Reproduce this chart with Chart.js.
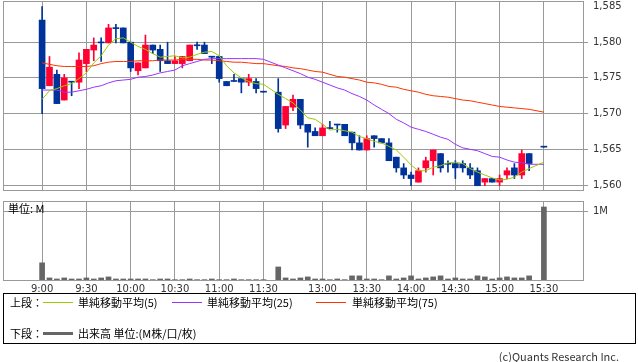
<!DOCTYPE html>
<html><head><meta charset="utf-8">
<script src="https://cdn.jsdelivr.net/npm/chart.js@4/dist/chart.umd.min.js"></script>
<style>
body{margin:0;width:638px;height:362px;background:#fff;position:relative;overflow:hidden;}
canvas{position:absolute;left:0;}
.t{position:absolute;font-family:"Noto Sans CJK JP",sans-serif;font-size:11px;line-height:12px;color:#000;white-space:nowrap;}
.ln{position:absolute;height:1px;width:30px;}
</style></head><body>
<canvas id="price" width="638" height="195" style="top:0;width:638px;height:195px"></canvas>
<canvas id="vol" width="638" height="100" style="top:195px;width:638px;height:100px"></canvas>
<div class="t" style="left:8px;top:202px">単位: M</div>
<div style="position:absolute;left:3px;top:293px;width:631px;height:49px;border:1px solid #000"></div>
<div class="t" style="left:10px;top:296px">上段：</div>
<div class="ln" style="left:43px;top:302px;background:#99cc00"></div>
<div class="t" style="left:78px;top:296px">単純移動平均(5)</div>
<div class="ln" style="left:172px;top:302px;background:#9933ff"></div>
<div class="t" style="left:207px;top:296px">単純移動平均(25)</div>
<div class="ln" style="left:316px;top:302px;background:#ff3300"></div>
<div class="t" style="left:352px;top:296px">単純移動平均(75)</div>
<div class="t" style="left:10px;top:327px">下段：</div>
<div class="ln" style="left:43px;top:332px;height:3px;background:#666"></div>
<div class="t" style="left:78px;top:327px">出来高 単位:(M株/口/枚)</div>
<div class="t" style="right:19px;top:350px;color:#333">(c)Quants Research Inc.</div>
<script>
const times = ['9:00','9:05','9:10','9:15','9:20','9:25','9:30','9:35','9:40','9:45','9:50','9:55','10:00','10:05','10:10','10:15','10:20','10:25','10:30','10:35','10:40','10:45','10:50','10:55','11:00','11:05','11:10','11:15','11:20','11:25','11:30','','12:30','12:35','12:40','12:45','12:50','12:55','13:00','13:05','13:10','13:15','13:20','13:25','13:30','13:35','13:40','13:45','13:50','13:55','14:00','14:05','14:10','14:15','14:20','14:25','14:30','14:35','14:40','14:45','14:50','14:55','15:00','15:05','15:10','15:15','15:20','15:25','15:30'];
const xTickLabels = ['9:00','9:30','10:00','10:30','11:00','11:30','13:00','13:30','14:00','14:30','15:00','15:30'];
const priceTicks = [1560,1565,1570,1575,1580,1585];
const volTicks = [1];

const openP  = [1583.1,1573.9,1575.5,1571.9,1574.5,1574.4,1577.0,1578.9,1580.0,1579.9,1582.0,1582.0,1580.0,1576.0,1576.4,1579.6,1579.0,1577.4,1577.0,1577.0,1577.4,1579.6,1579.6,1578.0,1578.0,1574.5,1574.5,1574.9,1574.4,1574.5,1573.0,null,1573.0,1568.4,1570.9,1572.0,1568.5,1567.5,1566.9,1568.0,1568.5,1568.5,1567.4,1565.9,1564.9,1566.9,1566.5,1565.9,1563.9,1562.4,1561.4,1560.4,1562.4,1563.4,1564.4,1563.0,1563.0,1563.0,1562.4,1562.0,1560.4,1560.9,1560.4,1561.4,1562.4,1561.4,1564.4,null,1565.3];
const highP  = [1585.0,1578.0,1576.1,1575.5,1574.5,1578.5,1579.0,1580.6,1580.6,1582.5,1582.5,1582.0,1580.0,1577.1,1581.0,1579.6,1579.6,1580.0,1578.0,1578.0,1579.6,1580.0,1580.0,1578.0,1578.0,1574.5,1575.5,1574.9,1575.5,1574.9,1573.0,null,1574.9,1571.0,1572.6,1572.0,1568.5,1568.0,1568.5,1568.9,1568.5,1568.5,1567.4,1566.9,1566.9,1566.9,1566.5,1566.5,1563.9,1563.0,1561.8,1562.4,1563.9,1564.9,1564.4,1563.4,1563.4,1563.4,1563.0,1562.4,1560.9,1560.9,1561.4,1562.4,1563.0,1564.9,1564.4,null,1565.3];
const lowP   = [1570.0,1573.9,1571.4,1571.9,1572.5,1573.5,1575.9,1577.4,1577.3,1579.9,1579.9,1579.9,1575.9,1575.4,1576.4,1578.4,1575.9,1577.0,1577.0,1576.4,1577.4,1579.0,1578.4,1577.0,1574.4,1573.9,1574.5,1572.9,1573.9,1572.9,1573.0,null,1567.4,1567.9,1570.4,1567.9,1565.3,1566.9,1566.9,1567.9,1567.4,1566.9,1564.9,1564.9,1564.9,1565.3,1565.9,1563.4,1561.8,1560.9,1559.9,1560.4,1561.8,1561.4,1561.8,1561.8,1560.9,1561.8,1560.9,1559.9,1559.9,1560.4,1559.9,1560.9,1560.9,1560.9,1562.0,null,1565.3];
const closeP = [1573.5,1576.5,1571.4,1575.0,1574.4,1577.5,1579.0,1579.6,1579.9,1582.0,1581.9,1579.9,1576.4,1577.1,1579.6,1578.9,1577.4,1577.0,1577.4,1578.0,1579.6,1579.5,1578.4,1577.9,1574.9,1573.9,1574.5,1574.4,1574.9,1573.5,1573.0,null,1567.9,1571.0,1572.0,1568.4,1567.4,1566.9,1568.0,1567.9,1568.4,1566.9,1565.9,1564.9,1566.5,1566.5,1565.9,1563.4,1562.4,1561.4,1560.9,1562.0,1563.4,1564.9,1562.4,1562.9,1562.4,1562.4,1561.4,1559.9,1560.9,1560.4,1560.9,1562.0,1561.4,1564.4,1563.0,null,1565.3];
const ma5  = [1572.0,1573.2,1573.5,1573.9,1574.2,1574.9,1575.7,1577.1,1578.1,1579.6,1580.5,1580.6,1580.0,1579.4,1579.0,1578.4,1577.9,1578.0,1578.1,1577.8,1577.9,1578.3,1578.6,1578.7,1578.1,1576.7,1575.7,1575.0,1574.5,1574.2,1574.1,null,1572.7,1572.1,1571.5,1570.5,1569.4,1569.2,1568.5,1567.7,1567.8,1567.6,1567.4,1566.8,1566.5,1566.1,1565.9,1565.4,1564.9,1563.9,1562.8,1562.0,1562.0,1562.5,1562.7,1563.1,1563.2,1563.0,1562.3,1561.8,1561.4,1561.0,1560.7,1560.8,1561.1,1561.8,1562.3,null,1563.2];
const ma25 = [1573.3,1573.3,1573.3,1573.0,1573.0,1573.2,1573.4,1573.7,1573.9,1574.3,1574.6,1574.7,1574.8,1575.1,1575.2,1575.4,1575.7,1575.9,1576.1,1576.7,1577.0,1577.3,1577.6,1577.7,1577.7,1577.7,1577.7,1577.7,1577.7,1577.7,1577.6,null,1576.8,1576.4,1576.0,1575.6,1575.1,1574.8,1574.4,1574.0,1573.6,1573.3,1572.8,1572.4,1571.9,1571.2,1570.6,1570.0,1569.2,1568.7,1568.1,1567.8,1567.5,1567.1,1566.7,1566.4,1565.7,1565.2,1565.0,1564.8,1564.4,1564.0,1563.9,1563.5,1563.2,1563.1,1562.9,null,1562.9];
const ma75 = [1577.1,1576.9,1576.7,1576.6,1576.6,1576.6,1576.6,1576.7,1577.0,1577.2,1577.3,1577.3,1577.3,1577.4,1577.4,1577.4,1577.5,1577.5,1577.5,1577.6,1577.6,1577.6,1577.5,1577.5,1577.4,1577.3,1577.2,1577.2,1577.1,1577.0,1577.0,null,1576.7,1576.6,1576.4,1576.3,1576.1,1575.9,1575.8,1575.5,1575.2,1575.1,1574.9,1574.7,1574.4,1574.3,1574.1,1573.8,1573.7,1573.4,1573.2,1573.0,1572.7,1572.5,1572.4,1572.3,1572.1,1571.9,1571.8,1571.6,1571.4,1571.2,1571.0,1570.9,1570.8,1570.7,1570.6,null,1570.2];
const volume = [0.25,0.03,0.015,0.03,0.015,0.015,0.03,0.015,0.03,0.045,0.015,0.015,0.015,0.015,0.015,0.005,0.015,0.015,0.005,0.005,0.015,0.005,0.005,0.015,0.005,0.005,0.015,0.005,0.005,0.005,0.005,null,0.19,0.03,0.015,0.03,0.045,0.015,0.015,0.005,0.015,0.005,0.06,0.06,0.015,0.015,0.005,0.06,0.015,0.03,0.06,0.015,0.03,0.045,0.06,0.015,0.03,0.015,0.015,0.06,0.045,0.015,0.03,0.045,0.03,0.03,0.06,null,1.063];

const UP = '#ff0033', DOWN = '#003399', GRID = '#999999';
const tickIdx = xTickLabels.map(l => times.indexOf(l));

const bodies = [], wicks = [], colors = [];
times.forEach((t, i) => {
  if (openP[i] == null) return;
  bodies.push({x: i, y: [openP[i], closeP[i]]});
  wicks.push({x: i, y: [lowP[i], highP[i]]});
  colors.push(closeP[i] > openP[i] ? UP : DOWN);
});
const linePts = arr => arr.map((v, i) => v == null ? null : {x: i, y: v}).filter(p => p);
const volPts = volume.map((v, i) => v == null ? null : {x: i, y: v}).filter(p => p);

const frame = {
  id: 'frame',
  afterDatasetsDraw(chart) {
    const {ctx, chartArea: a} = chart;
    ctx.save();
    ctx.strokeStyle = GRID; ctx.lineWidth = 1;
    ctx.strokeRect(Math.round(a.left) + 0.5, Math.round(a.top) + 0.5, Math.round(a.right - a.left), Math.round(a.bottom - a.top));
    ctx.restore();
  }
};

const axisFont = {family: 'DejaVu Sans', size: 10};
const xCommon = {
  type: 'linear', min: -5.3, max: 73.3, offset: false,
  border: {display: false},
  afterBuildTicks: s => { s.ticks = tickIdx.map(v => ({value: v})); }
};

new Chart(document.getElementById('price'), {
  type: 'bar',
  data: {datasets: [
    {type: 'line', data: linePts(ma5), borderColor: '#99cc00', borderWidth: 1, pointRadius: 0, fill: false, order: 0},
    {type: 'line', data: linePts(ma25), borderColor: '#9933ff', borderWidth: 1, pointRadius: 0, fill: false, order: 1},
    {type: 'line', data: linePts(ma75), borderColor: '#ff3300', borderWidth: 1, pointRadius: 0, fill: false, order: 2},
    {type: 'bar', data: bodies, backgroundColor: colors, barThickness: 6, minBarLength: 1, grouped: false, order: 3},
    {type: 'bar', data: wicks, backgroundColor: colors, barThickness: 1, grouped: false, order: 4}
  ]},
  options: {
    responsive: false, animation: false, devicePixelRatio: 1,
    layout: {padding: {left: 3, right: 0, top: 1, bottom: 5}},
    plugins: {legend: {display: false}, tooltip: {enabled: false}},
    scales: {
      x: Object.assign({}, xCommon, {
        grid: {color: GRID, drawTicks: false, offset: false},
        ticks: {display: false},
        afterFit: s => { s.height = 0; s.paddingLeft = 0; s.paddingRight = 0; }
      }),
      y: {
        position: 'right', min: 1559.3, max: 1585.77,
        border: {display: false},
        grid: {color: c => (c.tick && c.tick.value === 1585) ? 'rgba(0,0,0,0)' : GRID, tickLength: 5},
        ticks: {padding: 5, color: '#333', font: axisFont, callback: v => v.toLocaleString('en-US')},
        afterBuildTicks: s => { s.ticks = priceTicks.map(v => ({value: v})); },
        afterFit: s => { s.width = 55; s.paddingTop = 0; s.paddingBottom = 0; }
      }
    }
  },
  plugins: [frame]
});

new Chart(document.getElementById('vol'), {
  type: 'bar',
  data: {datasets: [
    {data: volPts, backgroundColor: '#666666', barThickness: 5, grouped: false}
  ]},
  options: {
    responsive: false, animation: false, devicePixelRatio: 1,
    layout: {padding: {left: 3, right: 0, top: 6, bottom: 0}},
    plugins: {legend: {display: false}, tooltip: {enabled: false}},
    scales: {
      x: Object.assign({}, xCommon, {
        grid: {color: GRID, drawTicks: false, offset: false},
        ticks: {padding: 3, color: '#333', font: axisFont, maxRotation: 0, autoSkip: false,
                callback: v => times[v]},
        afterFit: s => { s.height = 15; s.paddingLeft = 0; s.paddingRight = 0; }
      }),
      y: {
        position: 'right', min: 0, max: 1.15,
        border: {display: false},
        grid: {color: GRID, tickLength: 5},
        ticks: {padding: 5, color: '#333', font: axisFont, callback: v => v + 'M'},
        afterBuildTicks: s => { s.ticks = volTicks.map(v => ({value: v})); },
        afterFit: s => { s.width = 55; s.paddingTop = 0; s.paddingBottom = 0; }
      }
    }
  },
  plugins: [frame]
});
</script>
</body></html>
